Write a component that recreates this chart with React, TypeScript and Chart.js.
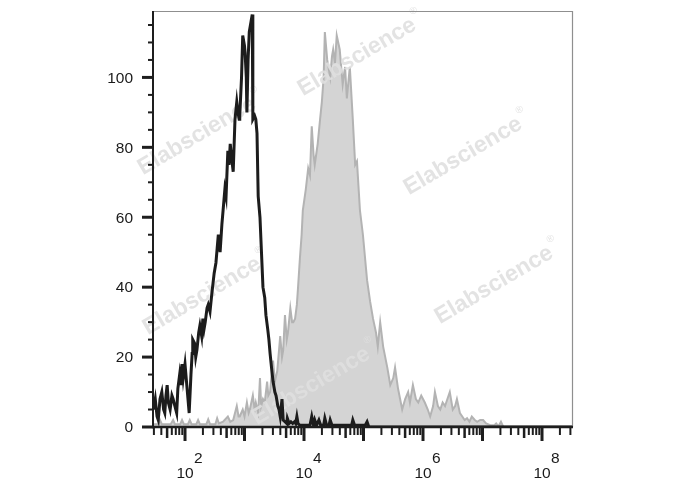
import React, { useEffect, useRef } from 'react';
import { Chart, registerables } from 'chart.js';

Chart.register(...registerables);

// ---- data (x values are log10 of fluorescence intensity) ----
const blackLogX = [
  1.47, 1.50, 1.53, 1.55, 1.58, 1.61, 1.64, 1.66, 1.68, 1.70, 1.72, 1.75, 1.78, 1.80, 1.83, 1.86, 1.88, 1.91, 1.93, 1.95,
  1.97, 2.00, 2.03, 2.05, 2.07, 2.10, 2.12, 2.13, 2.16, 2.18, 2.20, 2.23, 2.25, 2.28, 2.30, 2.32, 2.34, 2.37, 2.39, 2.42,
  2.45, 2.47, 2.49, 2.52, 2.54, 2.56, 2.58, 2.59, 2.62, 2.64, 2.67, 2.69, 2.72, 2.74, 2.76, 2.79, 2.81, 2.84, 2.87, 2.89,
  2.91, 2.92, 2.95, 2.97, 3.00, 3.01, 3.03, 3.04, 3.06, 3.08, 3.11, 3.13, 3.14, 3.17, 3.19, 3.21, 3.23, 3.26, 3.28, 3.31,
  3.34, 3.36, 3.39, 3.41, 3.43, 3.46, 3.48, 3.51, 3.53, 3.56, 3.58, 3.60, 3.63, 3.65, 3.68, 3.71, 3.72, 3.75, 3.78, 3.81,
  3.84, 3.86, 3.88, 3.90, 3.93, 4.10, 4.13, 4.16, 4.18, 4.21, 4.25, 4.28, 4.33, 4.35, 4.38, 4.42, 4.44, 4.47, 4.80, 4.82,
  4.85, 5.03, 5.06, 5.09, 8.52,
];
const blackCounts = [
  5, 8, 3, 2, 8, 10, 5, 4, 9, 12, 7, 5, 9, 8, 6, 4, 11, 15, 12, 18,
  14, 18, 12, 8, 4, 15, 21, 25, 24, 20, 22, 27, 29, 26, 31, 28, 30, 34, 35, 33,
  38, 41, 44, 47, 51, 55, 52, 50, 58, 62, 68, 66, 79, 75, 81, 76, 73, 88, 93, 90,
  88, 89, 100, 112, 109, 107, 100, 90, 105, 113, 116, 118, 88, 89, 88, 84, 66, 60, 52, 40,
  37, 32, 28, 25, 21, 16, 13, 10, 9, 6, 5, 3, 8, 2, 1.5, 1, 2.5, 1, 1.5, 1,
  1.5, 1, 3, 1, 0.5, 0.5, 3, 0.5, 2, 0.5, 2, 0.5, 0.5, 2.5, 0.5, 0.5, 2, 0.5, 0.5, 2,
  0.5, 0.5, 1.5, 0, 0,
];

const grayLogX = [
  1.46, 1.55, 1.58, 1.61, 1.76, 1.80, 1.83, 1.92, 1.95, 1.98, 2.05, 2.08, 2.11, 2.19, 2.22, 2.25, 2.36, 2.39, 2.42, 2.51,
  2.54, 2.57, 2.64, 2.72, 2.76, 2.81, 2.87, 2.90, 2.92, 2.97, 3.00, 3.04, 3.07, 3.09, 3.14, 3.17, 3.19, 3.23, 3.26, 3.28,
  3.31, 3.34, 3.38, 3.40, 3.43, 3.46, 3.48, 3.51, 3.55, 3.60, 3.63, 3.65, 3.68, 3.71, 3.73, 3.77, 3.80, 3.82, 3.85, 3.88,
  3.90, 3.93, 3.96, 3.98, 4.03, 4.07, 4.10, 4.13, 4.16, 4.18, 4.23, 4.27, 4.30, 4.33, 4.35, 4.39, 4.44, 4.47, 4.49, 4.52,
  4.55, 4.60, 4.65, 4.69, 4.72, 4.77, 4.82, 4.86, 4.89, 4.94, 4.99, 5.06, 5.11, 5.16, 5.21, 5.24, 5.28, 5.33, 5.40, 5.45,
  5.50, 5.53, 5.58, 5.65, 5.70, 5.75, 5.78, 5.83, 5.88, 5.92, 5.97, 6.03, 6.08, 6.12, 6.17, 6.20, 6.25, 6.29, 6.33, 6.37,
  6.41, 6.45, 6.50, 6.54, 6.57, 6.62, 6.66, 6.70, 6.74, 6.78, 6.82, 6.87, 6.91, 6.96, 7.01, 7.06, 7.13, 7.20, 7.23, 7.27,
  7.31, 7.35, 8.52,
];
const grayCounts = [
  0.8, 0.8, 2, 0.8, 0.8, 2, 0.8, 0.8, 2, 0.8, 0.8, 2, 0.8, 0.8, 2, 0.8, 0.8, 2.2, 0.8, 0.8,
  2.5, 1, 1.5, 3, 1.5, 2, 6, 3, 3, 5, 3, 7, 4, 5, 9, 5, 7, 4, 14, 6,
  8, 7, 13, 9, 10, 16, 19, 13, 16, 26, 20, 22, 32, 25, 27, 34, 30, 30, 31, 35,
  40, 48, 55, 62, 68, 74, 72, 86, 78, 75, 81, 88, 93, 100, 113, 105, 100, 106, 108, 104,
  112, 108, 98, 103, 94, 103, 88, 75, 76, 62, 55, 42, 36, 31, 27, 23, 30, 23, 17, 12,
  14, 17, 11, 5, 8, 10, 7, 12, 8, 7, 9, 7, 5, 3, 6, 10, 6, 5, 7, 6,
  8, 10, 5, 6, 8, 4, 3, 2, 2.5, 1.5, 3, 2, 1.5, 2, 2, 1, 0.5, 0.5, 1, 0.2,
  1.5, 0, 0,
];

const xMinExp = 1.462;
const xMaxExp = 8.504;
const yMax = 119;
const yMajorTicks = [0, 20, 40, 60, 80, 100];
const yMinorTicks = [5, 10, 15, 25, 30, 35, 45, 50, 55, 65, 70, 75, 85, 90, 95, 105, 110, 115];
const xDecades = [1, 2, 3, 4, 5, 6, 7, 8];
const xLabelExponents = [2, 4, 6, 8];
const watermarkText = 'Elabscience';
const watermarkCenters = [
  [357, 57],
  [197, 136],
  [463, 156],
  [202, 296],
  [494, 285],
  [311, 386],
];

const FONT = '"Liberation Sans", Arial, Helvetica, sans-serif';

const toPoints = (logs: number[], counts: number[]) =>
  logs.map((l, i) => ({ x: Math.pow(10, l), y: counts[i] }));

const watermarkPlugin = {
  id: 'watermark',
  afterDatasetDraw(chart: any, args: any) {
    if (args.index !== 1) return;
    const ctx = chart.ctx;
    ctx.save();
    for (const [cx, cy] of watermarkCenters) {
      ctx.save();
      ctx.translate(cx, cy);
      ctx.rotate((-30.5 * Math.PI) / 180);
      ctx.font = `bold 23px ${FONT}`;
      ctx.fillStyle = 'rgba(223,223,223,0.88)';
      ctx.textAlign = 'center';
      ctx.textBaseline = 'middle';
      ctx.fillText(watermarkText, 0, 0);
      const w = ctx.measureText(watermarkText).width;
      ctx.font = `10px ${FONT}`;
      ctx.textAlign = 'left';
      ctx.fillText('®', w / 2 + 2, -11);
      ctx.restore();
    }
    ctx.restore();
  },
};

const axesPlugin = {
  id: 'flowAxes',
  afterDraw(chart: any) {
    const ctx = chart.ctx;
    const { left, right, top, bottom } = chart.chartArea;
    const xs = chart.scales.x;
    const ys = chart.scales.y;
    ctx.save();
    // frame (top/right light)
    ctx.strokeStyle = '#8f8f8f';
    ctx.lineWidth = 1.2;
    ctx.beginPath();
    ctx.moveTo(left, top + 0.5);
    ctx.lineTo(right + 0.5, top + 0.5);
    ctx.lineTo(right + 0.5, bottom);
    ctx.stroke();
    // axes
    ctx.strokeStyle = '#1e1e1e';
    ctx.lineWidth = 2;
    ctx.beginPath();
    ctx.moveTo(left, top);
    ctx.lineTo(left, bottom + 1);
    ctx.stroke();
    ctx.lineWidth = 2.5;
    ctx.beginPath();
    ctx.moveTo(left - 1, bottom);
    ctx.lineTo(right + 1, bottom);
    ctx.stroke();

    // y ticks
    ctx.strokeStyle = '#1e1e1e';
    for (const v of yMajorTicks) {
      const y = ys.getPixelForValue(v);
      ctx.lineWidth = 3;
      ctx.beginPath();
      ctx.moveTo(left - 11, y);
      ctx.lineTo(left, y);
      ctx.stroke();
    }
    for (const v of yMinorTicks) {
      const y = ys.getPixelForValue(v);
      ctx.lineWidth = 2;
      ctx.beginPath();
      ctx.moveTo(left - 5, y);
      ctx.lineTo(left, y);
      ctx.stroke();
    }
    ctx.fillStyle = '#1a1a1a';
    ctx.font = `15.5px ${FONT}`;
    ctx.textAlign = 'right';
    ctx.textBaseline = 'middle';
    for (const v of yMajorTicks) {
      const y = ys.getPixelForValue(v);
      ctx.fillText(String(v), left - 20, y + 1);
    }

    // x ticks
    const yb = bottom + 1;
    for (const d of xDecades) {
      for (let m = 1; m <= 9; m++) {
        const val = m * Math.pow(10, d);
        const lg = Math.log10(val);
        if (lg < xMinExp || lg > xMaxExp) continue;
        const x = xs.getPixelForValue(val);
        let len = 7;
        let lw = 2;
        if (m === 1) { len = 13; lw = 3; }
        else if (m === 5) { len = 10; lw = 2.5; }
        ctx.lineWidth = lw;
        ctx.beginPath();
        ctx.moveTo(x, yb);
        ctx.lineTo(x, yb + len);
        ctx.stroke();
      }
    }
    // x labels 10^n
    ctx.font = `15.5px ${FONT}`;
    ctx.textBaseline = 'alphabetic';
    for (const e of xLabelExponents) {
      const x = xs.getPixelForValue(Math.pow(10, e));
      ctx.textAlign = 'center';
      ctx.fillText('10', x, 478);
      ctx.textAlign = 'left';
      ctx.fillText(String(e), x + 9, 463);
    }
    ctx.restore();
  },
};

export default function App() {
  const canvasRef = useRef<HTMLCanvasElement | null>(null);

  useEffect(() => {
    if (!canvasRef.current) return;
    const chart = new Chart(canvasRef.current, {
      type: 'line',
      data: {
        datasets: [
          {
            data: toPoints(blackLogX, blackCounts),
            borderColor: '#1c1c1c',
            borderWidth: 3,
            pointRadius: 0,
            fill: false,
            tension: 0,
          },
          {
            data: toPoints(grayLogX, grayCounts),
            borderColor: '#b3b3b3',
            backgroundColor: '#d4d4d4',
            borderWidth: 2,
            pointRadius: 0,
            fill: 'origin',
            tension: 0,
          },
        ],
      },
      options: {
        responsive: false,
        animation: false,
        devicePixelRatio: 1,
        events: [],
        layout: { padding: { left: 153, top: 11, right: 116, bottom: 63 } },
        scales: {
          x: { type: 'logarithmic', min: Math.pow(10, xMinExp), max: Math.pow(10, xMaxExp), display: false },
          y: { type: 'linear', min: 0, max: yMax, display: false },
        },
        plugins: {
          legend: { display: false },
          tooltip: { enabled: false },
        },
      },
      plugins: [watermarkPlugin, axesPlugin],
    } as any);
    return () => chart.destroy();
  }, []);

  return (
    <div style={{ position: 'fixed', left: 0, top: 0, width: 688, height: 490, background: '#fff' }}>
      <canvas ref={canvasRef} width={688} height={490} style={{ display: 'block' }} />
    </div>
  );
}
